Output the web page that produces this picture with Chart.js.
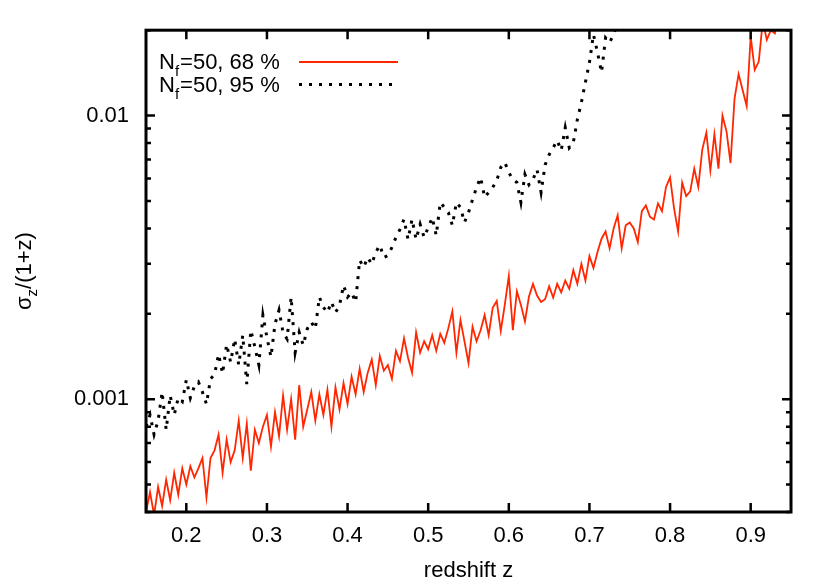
<!DOCTYPE html>
<html>
<head>
<meta charset="utf-8">
<script src="https://cdn.jsdelivr.net/npm/chart.js@4/dist/chart.umd.min.js"></script>
<style>
  html, body { margin: 0; padding: 0; background: #fff; }
  .chart-wrapper { width: 830px; height: 581px; position: relative; }
</style>
</head>
<body>
<div class="chart-wrapper"><canvas id="chart"></canvas></div>
<script>
// redshift grid (shared by both curves)
const redshift = [
  0.150, 0.155, 0.160, 0.165, 0.170, 0.175, 0.180, 0.185, 0.190, 0.195,
  0.200, 0.205, 0.210, 0.215, 0.220, 0.225, 0.230, 0.235, 0.240, 0.245,
  0.250, 0.255, 0.260, 0.265, 0.270, 0.275, 0.280, 0.285, 0.290, 0.295,
  0.300, 0.305, 0.310, 0.315, 0.320, 0.325, 0.330, 0.335, 0.340, 0.345,
  0.350, 0.355, 0.360, 0.365, 0.370, 0.375, 0.380, 0.385, 0.390, 0.395,
  0.400, 0.405, 0.410, 0.415, 0.420, 0.425, 0.430, 0.435, 0.440, 0.445,
  0.450, 0.455, 0.460, 0.465, 0.470, 0.475, 0.480, 0.485, 0.490, 0.495,
  0.500, 0.505, 0.510, 0.515, 0.520, 0.525, 0.530, 0.535, 0.540, 0.545,
  0.550, 0.555, 0.560, 0.565, 0.570, 0.575, 0.580, 0.585, 0.590, 0.595,
  0.600, 0.605, 0.610, 0.615, 0.620, 0.625, 0.630, 0.635, 0.640, 0.645,
  0.650, 0.655, 0.660, 0.665, 0.670, 0.675, 0.680, 0.685, 0.690, 0.695,
  0.700, 0.705, 0.710, 0.715, 0.720, 0.725, 0.730, 0.735, 0.740, 0.745,
  0.750, 0.755, 0.760, 0.765, 0.770, 0.775, 0.780, 0.785, 0.790, 0.795,
  0.800, 0.805, 0.810, 0.815, 0.820, 0.825, 0.830, 0.835, 0.840, 0.845,
  0.850, 0.855, 0.860, 0.865, 0.870, 0.875, 0.880, 0.885, 0.890, 0.895,
  0.900, 0.905, 0.910, 0.915, 0.920, 0.925, 0.930, 0.935
];

// sigma_z/(1+z), Nf=50, 68 %
const sigma68 = [
  0.00040, 0.00047, 0.00039, 0.00049, 0.00042, 0.00052, 0.00044, 0.00055, 0.00046, 0.00057,
  0.00050, 0.00058, 0.00053, 0.00057, 0.00062, 0.00045, 0.00062, 0.00066, 0.00075, 0.00055,
  0.00072, 0.00060, 0.00066, 0.00084, 0.00062, 0.00082, 0.00056, 0.00078, 0.00070, 0.00080,
  0.00088, 0.00068, 0.00090, 0.00074, 0.00103, 0.00078, 0.00100, 0.00072, 0.00112, 0.00080,
  0.00092, 0.00106, 0.00084, 0.00104, 0.00088, 0.00108, 0.00080, 0.00110, 0.00092, 0.00114,
  0.00096, 0.00120, 0.00104, 0.00128, 0.00106, 0.00124, 0.00138, 0.00112, 0.00142, 0.00126,
  0.00132, 0.00118, 0.00148, 0.00136, 0.00164, 0.00140, 0.00124, 0.00172, 0.00146, 0.00160,
  0.00150, 0.00168, 0.00148, 0.00170, 0.00158, 0.00178, 0.00204, 0.00146, 0.00190, 0.00160,
  0.00134, 0.00180, 0.00160, 0.00175, 0.00198, 0.00168, 0.00210, 0.00222, 0.00174, 0.00215,
  0.00272, 0.00175, 0.00240, 0.00215, 0.00188, 0.00230, 0.00255, 0.00232, 0.00220, 0.00225,
  0.00250, 0.00228, 0.00255, 0.00238, 0.00262, 0.00245, 0.00285, 0.00255, 0.00300, 0.00262,
  0.00320, 0.00290, 0.00330, 0.00368, 0.00390, 0.00340, 0.00400, 0.00445, 0.00340, 0.00410,
  0.00420, 0.00400, 0.00358, 0.00460, 0.00482, 0.00440, 0.00430, 0.00490, 0.00460, 0.00560,
  0.00605, 0.00470, 0.00390, 0.00580, 0.00520, 0.00540, 0.00650, 0.00560, 0.00760, 0.00870,
  0.00640, 0.00860, 0.00650, 0.01000, 0.00880, 0.00680, 0.01150, 0.01400, 0.01230, 0.01080,
  0.01900, 0.01450, 0.01550, 0.02150, 0.01850, 0.02000, 0.01950, 0.02300
];

// sigma_z/(1+z), Nf=50, 95 % (leaves the top of the plot near z=0.73)
const sigma95 = [
  0.00080, 0.00088, 0.00075, 0.00084, 0.00106, 0.00078, 0.00103, 0.00088, 0.00101, 0.00098,
  0.00117, 0.00101, 0.00111, 0.00115, 0.00106, 0.00096, 0.00118, 0.00122, 0.00144, 0.00123,
  0.00156, 0.00135, 0.00163, 0.00132, 0.00168, 0.00113, 0.00175, 0.00153, 0.00132, 0.00198,
  0.00165, 0.00141, 0.00184, 0.00206, 0.00172, 0.00163, 0.00229, 0.00146, 0.00172, 0.00155,
  0.00177, 0.00187, 0.00177, 0.00229, 0.00211, 0.00202, 0.00220, 0.00202, 0.00214, 0.00252,
  0.00229, 0.00238, 0.00220, 0.00309, 0.00292, 0.00316, 0.00299, 0.00330, 0.00349, 0.00316,
  0.00321, 0.00343, 0.00372, 0.00397, 0.00431, 0.00366, 0.00431, 0.00366, 0.00414, 0.00372,
  0.00403, 0.00437, 0.00378, 0.00494, 0.00475, 0.00455, 0.00410, 0.00494, 0.00475, 0.00420,
  0.00455, 0.00506, 0.00558, 0.00605, 0.00515, 0.00536, 0.00558, 0.00590, 0.00656, 0.00684,
  0.00630, 0.00595, 0.00581, 0.00494, 0.00620, 0.00570, 0.00595, 0.00645, 0.00536, 0.00670,
  0.00728, 0.00770, 0.00817, 0.00753, 0.00907, 0.00770, 0.00803, 0.00968, 0.01111, 0.01310,
  0.01540, 0.01930, 0.01670, 0.01420, 0.01880, 0.01810, 0.01930, 0.02130
];

const xTickValues = [0.2, 0.3, 0.4, 0.5, 0.6, 0.7, 0.8, 0.9];
const xTickLabels = ["0.2", "0.3", "0.4", "0.5", "0.6", "0.7", "0.8", "0.9"];
const yTickValues = [0.001, 0.01];
const yTickLabels = ["0.001", "0.01"];
const yMinorTicks = [0.0004, 0.0005, 0.0006, 0.0007, 0.0008, 0.0009,
  0.002, 0.003, 0.004, 0.005, 0.006, 0.007, 0.008, 0.009, 0.02];

const FONT = "'Liberation Sans', Arial, sans-serif";
const RED = "rgb(255, 38, 0)";

// gnuplot-style box with inward ticks, y title and key
const gnuplotFrame = {
  id: "gnuplotFrame",
  afterDatasetsDraw(chart) {
    const { ctx, chartArea: a, scales: { x, y } } = chart;
    ctx.save();
    ctx.strokeStyle = "#000";
    ctx.lineWidth = 2.5;
    ctx.beginPath();
    xTickValues.forEach((v) => {
      const px = x.getPixelForValue(v);
      ctx.moveTo(px, a.bottom); ctx.lineTo(px, a.bottom - 9);
      ctx.moveTo(px, a.top); ctx.lineTo(px, a.top + 9);
    });
    yTickValues.forEach((v) => {
      const py = y.getPixelForValue(v);
      ctx.moveTo(a.left, py); ctx.lineTo(a.left + 9, py);
      ctx.moveTo(a.right, py); ctx.lineTo(a.right - 9, py);
    });
    yMinorTicks.forEach((v) => {
      const py = y.getPixelForValue(v);
      ctx.moveTo(a.left, py); ctx.lineTo(a.left + 5, py);
      ctx.moveTo(a.right, py); ctx.lineTo(a.right - 5, py);
    });
    ctx.stroke();
    ctx.lineWidth = 3;
    ctx.strokeRect(a.left, a.top, a.right - a.left, a.bottom - a.top);

    // y axis title: sigma_z/(1+z)
    ctx.fillStyle = "#000";
    ctx.textBaseline = "alphabetic";
    ctx.translate(31, (a.top + a.bottom) / 2);
    ctx.rotate(-Math.PI / 2);
    ctx.font = "22px " + FONT;
    const wS = ctx.measureText("σ").width;
    const wR = ctx.measureText("/(1+z)").width;
    ctx.font = "15px " + FONT;
    const wZ = ctx.measureText("z").width;
    let tx = -(wS + wZ + wR) / 2;
    ctx.font = "22px " + FONT;
    ctx.fillText("σ", tx, 0);
    ctx.font = "15px " + FONT;
    ctx.fillText("z", tx + wS, 6);
    ctx.font = "22px " + FONT;
    ctx.fillText("/(1+z)", tx + wS + wZ, 0);
    ctx.setTransform(1, 0, 0, 1, 0, 0);

    // key
    chart.data.datasets.forEach((ds, i) => {
      const base = 69 + i * 22.5;
      let kx = 159;
      ctx.font = "22px " + FONT;
      ctx.fillText("N", kx, base);
      kx += ctx.measureText("N").width;
      ctx.font = "15px " + FONT;
      ctx.fillText("f", kx, base + 7);
      kx += ctx.measureText("f").width + 1;
      ctx.font = "22px " + FONT;
      ctx.fillText(ds.keyText, kx, base);
      ctx.beginPath();
      ctx.strokeStyle = ds.borderColor;
      ctx.lineWidth = ds.borderWidth;
      ctx.setLineDash(ds.borderDash || []);
      ctx.moveTo(299, base - 7);
      ctx.lineTo(398, base - 7);
      ctx.stroke();
      ctx.setLineDash([]);
    });
    ctx.restore();
  },
};

new Chart(document.getElementById("chart"), {
  type: "line",
  data: {
    datasets: [
      {
        label: "Nf=50, 68 %",
        keyText: "=50, 68 %",
        data: sigma68.map((v, i) => ({ x: redshift[i], y: v })),
        borderColor: RED,
        borderWidth: 1.8,
        pointRadius: 0,
        tension: 0,
      },
      {
        label: "Nf=50, 95 %",
        keyText: "=50, 95 %",
        data: sigma95.map((v, i) => ({ x: redshift[i], y: v })),
        borderColor: "#000",
        borderWidth: 3,
        borderDash: [3, 7],
        borderCapStyle: "butt",
        pointRadius: 0,
        tension: 0,
      },
    ],
  },
  options: {
    responsive: true,
    maintainAspectRatio: false,
    animation: false,
    layout: { padding: { left: 0, top: 28, right: 39, bottom: 0 } },
    plugins: { legend: { display: false }, tooltip: { enabled: false } },
    scales: {
      x: {
        type: "linear",
        min: 0.15,
        max: 0.95,
        grid: { display: false, drawTicks: false },
        border: { display: false },
        afterBuildTicks: (s) => { s.ticks = xTickValues.map((v) => ({ value: v })); },
        afterFit: (s) => { s.height = 69; },
        ticks: {
          autoSkip: false,
          maxRotation: 0,
          padding: 11,
          color: "#000",
          font: { family: FONT, size: 22 },
          callback: (v, i) => xTickLabels[i],
        },
        title: {
          display: true,
          text: "redshift z",
          color: "#000",
          font: { family: FONT, size: 22, lineHeight: 0.9 },
          padding: { top: 0, bottom: 0 },
        },
      },
      y: {
        type: "logarithmic",
        min: 0.0004,
        max: 0.02,
        grid: { display: false, drawTicks: false },
        border: { display: false },
        afterBuildTicks: (s) => { s.ticks = yTickValues.map((v) => ({ value: v })); },
        afterFit: (s) => { s.width = 146; },
        ticks: {
          autoSkip: false,
          padding: 17,
          color: "#000",
          font: { family: FONT, size: 22 },
          callback: (v, i) => yTickLabels[i],
        },
      },
    },
  },
  plugins: [gnuplotFrame],
});
</script>
</body>
</html>
